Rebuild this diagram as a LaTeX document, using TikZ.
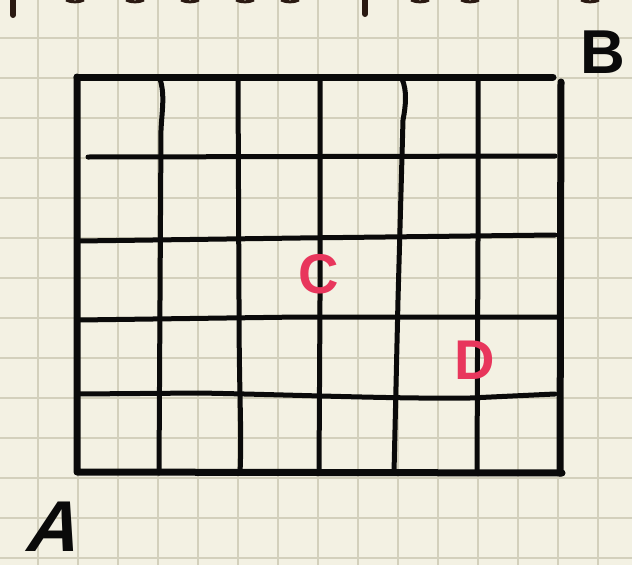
\documentclass[tikz,border=0pt]{standalone}
\usepackage{fontspec}
\setmainfont{Liberation Sans}
\definecolor{paper}{HTML}{F3F1E3}
\definecolor{paperline}{HTML}{D3D0BC}
\definecolor{ink}{HTML}{0A0A0A}
\definecolor{redink}{HTML}{E8365C}
\definecolor{topink}{HTML}{2A1A12}
\tikzset{
  outer/.style={ink, line width=7pt, line cap=round, line join=round},
  inner/.style={ink, line width=5pt, line cap=round},
  redlabel/.style={redink, font=\bfseries\fontsize{56}{56}\selectfont, inner sep=0pt},
  blacklabel/.style={ink, font=\bfseries\fontsize{60}{60}\selectfont, inner sep=0pt},
}
\begin{document}
\begin{tikzpicture}[x=1pt,y=-1pt]
\useasboundingbox (0,0) rectangle (632,565);
\fill[paper] (0,0) rectangle (632,565);
% graph paper
\foreach \i in {38,78,...,598} {\draw[paperline, line width=1.4pt] (\i,0) -- (\i,565);}
\foreach \j in {38,78,...,558} {\draw[paperline, line width=1.4pt] (0,\j) -- (632,\j);}
% cut-off text strokes at top
\draw[topink, line width=6pt, line cap=round] (13,0) -- (13,15);
\draw[topink, line width=6pt, line cap=round] (365,0) -- (365,14);
\foreach \x in {75,135,190,245,290,420,470,590} {\draw[topink, line width=3pt] (\x-9,0) .. controls (\x-4,2.5) and (\x+4,2.5) .. (\x+9,0);}
% interior vertical lines
\draw[inner] (160,79) .. controls (165,95) and (162,110) .. (161,130) -- (160,300) -- (159,473);
\draw[inner] (238,79) -- (239,300) .. controls (239,400) and (242,430) .. (240,473);
\draw[inner] (320,79) -- (320,300) -- (319,473);
\draw[inner] (402,79) .. controls (407,90) and (406,105) .. (403,120) -- (398,300) -- (394,473);
\draw[inner] (478,79) -- (478,240) -- (477,473);
% interior horizontal lines
\draw[inner] (88,157) -- (555,156);
\draw[inner] (79,241) -- (300,238) -- (555,235);
\draw[inner] (79,320) -- (300,317) -- (557,317);
\draw[inner] (79,394) -- (200,393) .. controls (300,395) and (400,399) .. (470,398) -- (555,394);
% outer frame
\draw[outer] (77,77) -- (553,77);
\draw[outer] (561,82) -- (560,473);
\draw[outer] (77,77) -- (77,472) -- (562,473);
% labels
\node[redlabel] (C) at (319,274) {C};
\node[redlabel] (D) at (475,360) {D};
\node[blacklabel, font=\bfseries\fontsize{62}{62}\selectfont] (B) at (603,52) {B};
\node[blacklabel, font=\bfseries\fontsize{72}{72}\selectfont, xslant=0.3] (A) at (57,527) {A};
\end{tikzpicture}
\end{document}
